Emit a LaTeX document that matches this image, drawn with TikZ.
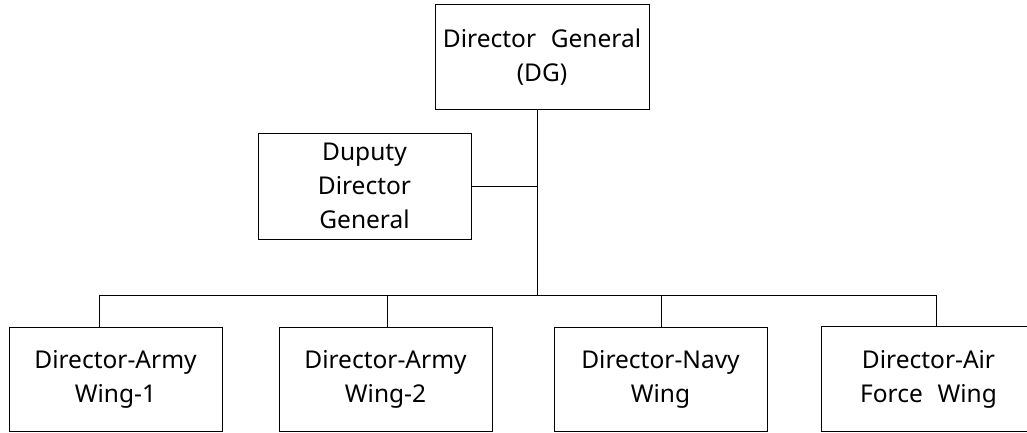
\documentclass[tikz,border=0pt]{standalone}
\usepackage{fontspec}
\setmainfont{Noto Sans}
\begin{document}
\begin{tikzpicture}[x=1pt,y=-1pt,
  box/.style={draw, line width=1pt, inner sep=0pt, minimum width=213pt, minimum height=105pt, align=center, font=\fontsize{24.5}{34}\selectfont},
  conn/.style={line width=1pt}]
\useasboundingbox (0,0) rectangle (1027,433);
\node[box, minimum width=214pt] (dg) at (542,57.5) {Director\hspace{0.6em}General\\(DG)};
\node[box, minimum height=106pt] (dep) at (364.5,186) {Duputy\\Director\\General};
\node[box, minimum height=104pt] (b1) at (115.5,379) {Director-Army\\Wing-1};
\node[box, minimum height=104pt] (b2) at (385.5,379) {Director-Army\\Wing-2};
\node[box, minimum height=104pt] (b3) at (660.5,379) {Director-Navy\\Wing};
\node[box, draw=none, minimum height=104pt] (b4) at (928.5,379) {Director-Air\\Force\hspace{0.6em}Wing};
\draw[conn] ([xshift=40pt]b4.north east) -- (b4.north west) -- (b4.south west) -- ([xshift=40pt]b4.south east);
\coordinate (j) at (537.5,295);
\coordinate (c1) at (99,295);
\coordinate (c2) at (387,295);
\coordinate (c3) at (661,295);
\coordinate (c4) at (936,295);
\draw[conn] (dg.south -| j) -- (j);
\draw[conn] (dep.east) -- (dep.east -| j);
\draw[conn] (c1) -- (c4);
\draw[conn] (b1.north -| c1) -- (c1);
\draw[conn] (b2.north -| c2) -- (c2);
\draw[conn] (b3.north -| c3) -- (c3);
\draw[conn] (b4.north -| c4) -- (c4);
\end{tikzpicture}
\end{document}
